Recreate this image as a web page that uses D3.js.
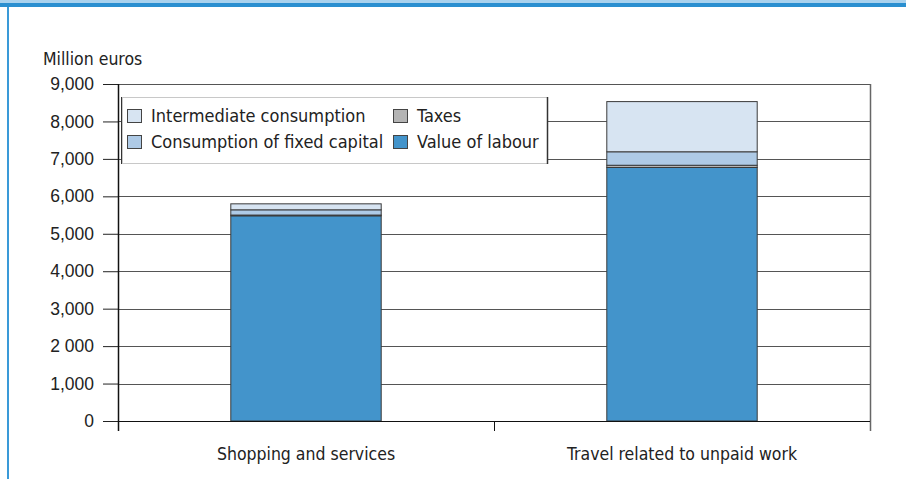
<!DOCTYPE html>
<html>
<head>
<meta charset="utf-8">
<script src="https://cdn.jsdelivr.net/npm/d3@7"></script>
<style>
	body { margin: 0; background: #fff; }
	svg { display: block; font-family: "Liberation Sans Narrow", "DejaVu Sans Condensed", "Open Sans", sans-serif; }
</style>
</head>
<body>
<div id="chart"></div>
<script>
"use strict";

// Chart data
var categories = ["Shopping and services", "Travel related to unpaid work"],
	seriesNames = ["Value of labour", "Taxes", "Consumption of fixed capital", "Intermediate consumption"],
	valueOfLabour = [5480, 6770],
	taxes = [20, 60],
	fixedCapital = [140, 360],
	intermediate = [160, 1340],
	yTicks = [0, 1000, 2000, 3000, 4000, 5000, 6000, 7000, 8000, 9000],
	yTickLabels = ["0", "1,000", "2 000", "3,000", "4,000", "5,000", "6,000", "7,000", "8,000", "9,000"];

var colors = {
	"Value of labour": "#4394cb",
	"Taxes": "#b4b4b4",
	"Consumption of fixed capital": "#aecae6",
	"Intermediate consumption": "#d7e4f2"
};

var width = 906,
	height = 479,
	margin = { top: 84, right: 36, bottom: 58, left: 118 },
	plotW = width - margin.left - margin.right,
	plotH = height - margin.top - margin.bottom,
	fontSize = 18,
	axisFontSize = 17.5;

var svg = d3.select("#chart").append("svg")
	.attr("width", width)
	.attr("height", height);

// Page frame: blue band on top, thin blue line on the left
svg.append("rect").attr("x", 0).attr("y", 0).attr("width", width).attr("height", 3).attr("fill", "#a9d2ee");
svg.append("rect").attr("x", 0).attr("y", 3).attr("width", width).attr("height", 4).attr("fill", "#2a8fd0");
svg.append("rect").attr("x", 7).attr("y", 7).attr("width", 2).attr("height", height - 7).attr("fill", "#3a9ad8");

// Build stacked table
var table = categories.map(function (c, i) {
	return {
		cat: c,
		"Value of labour": valueOfLabour[i],
		"Taxes": taxes[i],
		"Consumption of fixed capital": fixedCapital[i],
		"Intermediate consumption": intermediate[i]
	};
});
var stacked = d3.stack().keys(seriesNames)(table);

var x = d3.scaleBand()
	.domain(categories)
	.range([0, plotW])
	.paddingInner(0.6)
	.paddingOuter(0.3);

var xEdge = d3.scaleBand().domain(categories).range([0, plotW]);

var y = d3.scaleLinear()
	.domain([0, 9000])
	.range([plotH, 0]);

var g = svg.append("g")
	.attr("transform", "translate(" + margin.left + "," + margin.top + ")");

// Grid lines
g.append("g").selectAll("line")
	.data(yTicks.filter(function (d) { return d > 0; }))
	.enter().append("line")
	.attr("x1", 0).attr("x2", plotW)
	.attr("y1", function (d) { return Math.round(y(d)) + 0.5; })
	.attr("y2", function (d) { return Math.round(y(d)) + 0.5; })
	.attr("stroke", "#555")
	.attr("stroke-width", 1);

// Right frame line
g.append("line")
	.attr("x1", plotW + 0.5).attr("x2", plotW + 0.5)
	.attr("y1", 0).attr("y2", plotH + 10)
	.attr("stroke", "#666").attr("stroke-width", 1.5);

// Bars
var layers = g.append("g").selectAll("g")
	.data(stacked)
	.enter().append("g")
	.attr("fill", function (d) { return colors[d.key]; });

layers.selectAll("rect")
	.data(function (d) { return d; })
	.enter().append("rect")
	.attr("x", function (d) { return x(d.data.cat); })
	.attr("width", x.bandwidth())
	.attr("y", function (d) { return y(d[1]); })
	.attr("height", function (d) { return y(d[0]) - y(d[1]); })
	.attr("stroke", "#3a3a3a")
	.attr("stroke-width", 1);

// Y axis
var yAxis = d3.axisLeft(y)
	.tickValues(yTicks)
	.tickSize(15)
	.tickPadding(9)
	.tickFormat(function (d, i) { return yTickLabels[i]; });

var yG = g.append("g").call(yAxis);
yG.select(".domain").remove();
yG.selectAll(".tick line").attr("stroke", "#222");
yG.selectAll("text").attr("font-size", axisFontSize).attr("fill", "#222");
g.append("line")
	.attr("x1", 0.5).attr("x2", 0.5)
	.attr("y1", 0).attr("y2", plotH + 10)
	.attr("stroke", "#111").attr("stroke-width", 1.5);

// X axis
g.append("line")
	.attr("x1", 0).attr("x2", plotW)
	.attr("y1", plotH + 0.5).attr("y2", plotH + 0.5)
	.attr("stroke", "#111");
g.append("g").selectAll("line")
	.data(categories.slice(1))
	.enter().append("line")
	.attr("x1", function (d) { return xEdge(d) + 0.5; })
	.attr("x2", function (d) { return xEdge(d) + 0.5; })
	.attr("y1", plotH).attr("y2", plotH + 10)
	.attr("stroke", "#111");
g.append("g").selectAll("text")
	.data(categories)
	.enter().append("text")
	.attr("x", function (d) { return x(d) + x.bandwidth() / 2; })
	.attr("y", plotH + 39)
	.attr("text-anchor", "middle")
	.attr("font-size", axisFontSize)
	.attr("fill", "#222")
	.text(function (d) { return d; });

// Y axis title
svg.append("text")
	.attr("x", 43).attr("y", 65)
	.attr("font-size", axisFontSize)
	.attr("fill", "#222")
	.text("Million euros");

// Legend
var legendItems = [
	{ name: "Intermediate consumption", col: 0, row: 0 },
	{ name: "Consumption of fixed capital", col: 0, row: 1 },
	{ name: "Taxes", col: 1, row: 0 },
	{ name: "Value of labour", col: 1, row: 1 }
];
var legend = svg.append("g").attr("transform", "translate(121,97)");
legend.append("rect")
	.attr("x", 1.5).attr("y", 0.5).attr("width", 425).attr("height", 66)
	.attr("fill", "#fff").attr("stroke", "#c8c8c8");
legend.append("line")
	.attr("x1", 426.5).attr("x2", 426.5).attr("y1", 0).attr("y2", 67)
	.attr("stroke", "#333").attr("stroke-width", 1.5);
legend.append("line")
	.attr("x1", 0.5).attr("x2", 0.5).attr("y1", 0).attr("y2", 67)
	.attr("stroke", "#333").attr("stroke-width", 1);

var li = legend.selectAll(".item")
	.data(legendItems)
	.enter().append("g")
	.attr("class", "item")
	.attr("transform", function (d) {
		return "translate(" + (d.col === 0 ? 6 : 272) + "," + (d.row === 0 ? 12 : 38) + ")";
	});
li.append("rect")
	.attr("x", 0.5).attr("y", 0.5).attr("width", 14).attr("height", 13)
	.attr("fill", function (d) { return colors[d.name]; })
	.attr("stroke", "#444");
li.append("text")
	.attr("x", 24).attr("y", 13)
	.attr("font-size", fontSize)
	.attr("fill", "#222")
	.text(function (d) { return d.name; });
</script>
</body>
</html>
